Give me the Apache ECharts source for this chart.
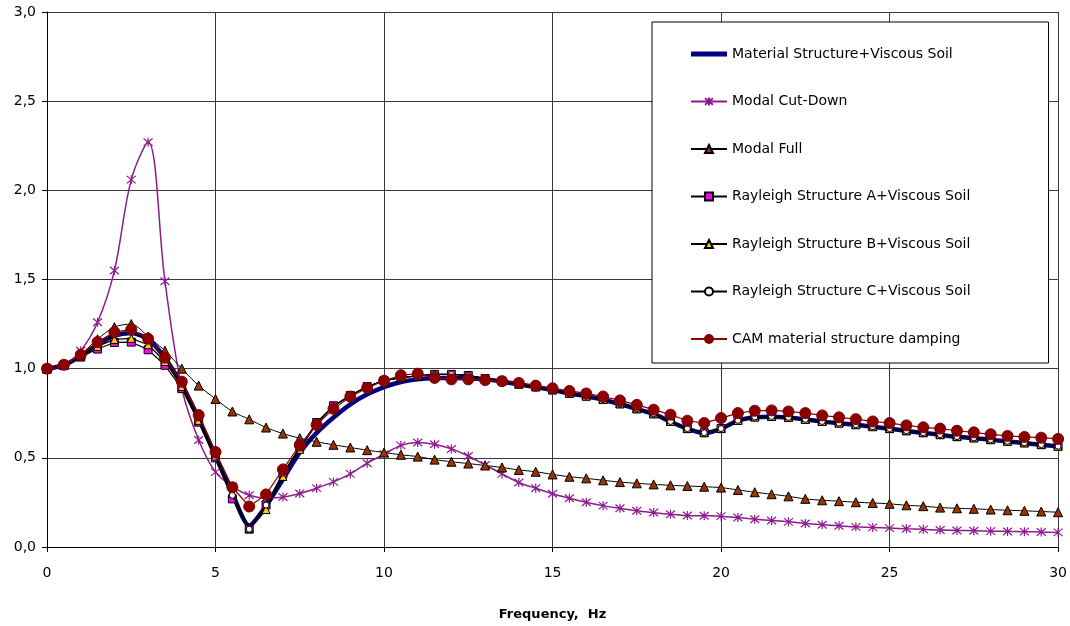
<!DOCTYPE html>
<html>
<head>
<meta charset="utf-8">
<script src="https://cdn.jsdelivr.net/npm/echarts@6/dist/echarts.min.js"></script>
<style>
  html, body { margin: 0; padding: 0; background: #fff; }
  #main { width: 1070px; height: 626px; }
</style>
</head>
<body>
<div id="main"></div>
<script>
// frequencies, Hz
var freq = [0, 0.5, 1, 1.5, 2, 2.5, 3, 3.5, 4, 4.5, 5, 5.5, 6, 6.5, 7, 7.5, 8, 8.5, 9, 9.5,
    10, 10.5, 11, 11.5, 12, 12.5, 13, 13.5, 14, 14.5, 15, 15.5, 16, 16.5, 17, 17.5, 18, 18.5, 19, 19.5,
    20, 20.5, 21, 21.5, 22, 22.5, 23, 23.5, 24, 24.5, 25, 25.5, 26, 26.5, 27, 27.5, 28, 28.5, 29, 29.5, 30];

var materialViscous = [1.00, 1.02, 1.07, 1.135, 1.185, 1.20, 1.165, 1.06, 0.91, 0.72,
    0.51, 0.30, 0.12, 0.23, 0.38, 0.53, 0.64, 0.726, 0.80, 0.856,
    0.897, 0.925, 0.94, 0.947, 0.948, 0.946, 0.94, 0.928, 0.912, 0.897,
    0.88, 0.861, 0.845, 0.826, 0.802, 0.774, 0.746, 0.703, 0.663, 0.64,
    0.663, 0.709, 0.728, 0.731, 0.726, 0.715, 0.703, 0.694, 0.685, 0.674,
    0.663, 0.651, 0.64, 0.629, 0.618, 0.611, 0.601, 0.592, 0.583, 0.573, 0.564];

var modalCutDown = [1.00, 1.02, 1.10, 1.26, 1.55, 2.06, 2.27, 1.49, 0.89, 0.60,
    0.42, 0.34, 0.29, 0.275, 0.28, 0.30, 0.33, 0.365, 0.41, 0.47,
    0.52, 0.57, 0.586, 0.576, 0.55, 0.51, 0.46, 0.41, 0.362, 0.329,
    0.299, 0.273, 0.251, 0.232, 0.217, 0.203, 0.193, 0.184, 0.177, 0.175,
    0.173, 0.165, 0.156, 0.149, 0.141, 0.132, 0.125, 0.119, 0.113, 0.110,
    0.106, 0.102, 0.099, 0.095, 0.093, 0.091, 0.089, 0.087, 0.086, 0.084, 0.082];

var modalFull = [1.00, 1.02, 1.08, 1.165, 1.233, 1.25, 1.18, 1.10, 1.00, 0.905,
    0.83, 0.76, 0.716, 0.67, 0.636, 0.61, 0.59, 0.573, 0.558, 0.543,
    0.53, 0.517, 0.507, 0.49, 0.478, 0.468, 0.457, 0.446, 0.432, 0.422,
    0.407, 0.394, 0.385, 0.374, 0.364, 0.357, 0.351, 0.346, 0.342, 0.338,
    0.333, 0.32, 0.307, 0.296, 0.284, 0.27, 0.262, 0.257, 0.251, 0.247,
    0.242, 0.234, 0.229, 0.221, 0.217, 0.214, 0.21, 0.206, 0.203, 0.199, 0.195];

var rayleighA = [1.00, 1.02, 1.065, 1.11, 1.147, 1.149, 1.106, 1.019, 0.888, 0.70,
    0.50, 0.27, 0.10, 0.235, 0.41, 0.56, 0.698, 0.792, 0.85, 0.90,
    0.933, 0.95, 0.96, 0.968, 0.968, 0.962, 0.945, 0.93, 0.913, 0.898,
    0.881, 0.862, 0.846, 0.827, 0.803, 0.775, 0.747, 0.704, 0.664, 0.641,
    0.664, 0.71, 0.729, 0.732, 0.727, 0.716, 0.704, 0.695, 0.686, 0.675,
    0.664, 0.652, 0.641, 0.63, 0.619, 0.612, 0.602, 0.593, 0.584, 0.574, 0.565];

var rayleighB = [1.00, 1.02, 1.07, 1.125, 1.164, 1.17, 1.134, 1.04, 0.90, 0.71,
    0.51, 0.30, 0.105, 0.21, 0.396, 0.548, 0.69, 0.79, 0.85, 0.90,
    0.933, 0.95, 0.96, 0.968, 0.968, 0.962, 0.945, 0.93, 0.913, 0.898,
    0.881, 0.862, 0.846, 0.827, 0.803, 0.775, 0.747, 0.704, 0.664, 0.641,
    0.664, 0.71, 0.729, 0.732, 0.727, 0.716, 0.704, 0.695, 0.686, 0.675,
    0.664, 0.652, 0.641, 0.63, 0.619, 0.612, 0.602, 0.593, 0.584, 0.574, 0.565];

var rayleighC = [1.00, 1.02, 1.075, 1.14, 1.19, 1.205, 1.165, 1.06, 0.915, 0.725,
    0.515, 0.29, 0.10, 0.235, 0.415, 0.555, 0.695, 0.79, 0.85, 0.90,
    0.933, 0.95, 0.96, 0.968, 0.968, 0.962, 0.945, 0.93, 0.913, 0.898,
    0.881, 0.862, 0.846, 0.827, 0.803, 0.775, 0.747, 0.704, 0.664, 0.641,
    0.664, 0.71, 0.729, 0.732, 0.727, 0.716, 0.704, 0.695, 0.686, 0.675,
    0.664, 0.652, 0.641, 0.63, 0.619, 0.612, 0.602, 0.593, 0.584, 0.574, 0.565];

var camDamping = [1.00, 1.022, 1.078, 1.149, 1.205, 1.22, 1.168, 1.062, 0.927, 0.74,
    0.533, 0.335, 0.227, 0.295, 0.435, 0.572, 0.685, 0.775, 0.843, 0.892,
    0.932, 0.963, 0.972, 0.948, 0.94, 0.94, 0.936, 0.93, 0.92, 0.905,
    0.89, 0.875, 0.861, 0.844, 0.822, 0.797, 0.77, 0.742, 0.708, 0.695,
    0.723, 0.751, 0.764, 0.766, 0.76, 0.751, 0.738, 0.727, 0.717, 0.704,
    0.695, 0.682, 0.671, 0.664, 0.652, 0.643, 0.632, 0.623, 0.617, 0.613, 0.606];

var seriesNames = ['Material Structure+Viscous Soil', 'Modal Cut-Down', 'Modal Full',
    'Rayleigh Structure A+Viscous Soil', 'Rayleigh Structure B+Viscous Soil',
    'Rayleigh Structure C+Viscous Soil', 'CAM material structure damping'];

function pairs(vals) {
    return freq.map(function (f, i) { return [f, vals[i]]; });
}

var FONT = 'DejaVu Sans';
var asterisk = 'path://M0,0L10,10M10,0L0,10M5,-1L5,11';

var myChart = echarts.init(document.getElementById('main'), null, {renderer: 'canvas'});

// legend: first entry is just a thick line, like the original
var legendData = seriesNames.map(function (n, i) {
    return i === 0 ? {name: n, icon: 'path://M0,0H36V5H0Z'} : {name: n};
});

var option = {
    animation: false,
    backgroundColor: '#fff',
    grid: {left: 47, top: 12, right: 10, bottom: 78, containLabel: false},
    legend: {
        orient: 'vertical',
        left: 652,
        top: 22,
        padding: [25, 78, 17, 38],
        itemGap: 33.5,
        itemWidth: 36,
        itemHeight: 10,
        backgroundColor: '#fff',
        borderColor: '#000',
        borderWidth: 1,
        borderRadius: 0,
        textStyle: {fontFamily: FONT, fontSize: 14, color: '#000', lineHeight: 14},
        data: legendData
    },
    xAxis: {
        type: 'value',
        min: 0, max: 30, interval: 5,
        name: 'Frequency,  Hz',
        nameLocation: 'middle',
        nameGap: 61,
        nameTextStyle: {fontFamily: FONT, fontSize: 13, fontWeight: 'bold', color: '#000'},
        axisLine: {show: true, onZero: false, lineStyle: {color: '#000', width: 1}},
        axisTick: {show: true, length: 5, lineStyle: {color: '#000'}},
        axisLabel: {fontFamily: FONT, fontSize: 14, color: '#000', margin: 19},
        splitLine: {show: true, lineStyle: {color: '#3a3a3a', width: 1}}
    },
    yAxis: {
        type: 'value',
        min: 0, max: 3, interval: 0.5,
        axisLine: {show: true, lineStyle: {color: '#000', width: 1}},
        axisTick: {show: true, length: 5, lineStyle: {color: '#000'}},
        axisLabel: {
            fontFamily: FONT, fontSize: 14, color: '#000', margin: 11,
            formatter: function (v) { return v.toFixed(1).replace('.', ','); }
        },
        splitLine: {show: true, lineStyle: {color: '#3a3a3a', width: 1}}
    },
    series: [
        {
            name: seriesNames[0], type: 'line', data: pairs(materialViscous),
            symbol: 'none', smooth: 0.25, z: 2,
            lineStyle: {color: '#000080', width: 4.5},
            itemStyle: {color: '#000080'}
        },
        {
            name: seriesNames[1], type: 'line', data: pairs(modalCutDown),
            smooth: 0.35, z: 3,
            symbol: asterisk, symbolSize: 9,
            lineStyle: {color: '#8E1B8E', width: 1.5},
            itemStyle: {color: '#8E1B8E', borderColor: '#8E1B8E', borderWidth: 1.2}
        },
        {
            name: seriesNames[2], type: 'line', data: pairs(modalFull),
            smooth: 0.3, z: 4,
            symbol: 'triangle', symbolSize: 9,
            lineStyle: {color: '#000', width: 1},
            itemStyle: {color: '#993300', borderColor: '#000', borderWidth: 1}
        },
        {
            name: seriesNames[3], type: 'line', data: pairs(rayleighA),
            z: 5,
            symbol: 'rect', symbolSize: 8,
            lineStyle: {color: '#000', width: 1.2},
            itemStyle: {color: '#FF00FF', borderColor: '#000', borderWidth: 1}
        },
        {
            name: seriesNames[4], type: 'line', data: pairs(rayleighB),
            z: 6,
            symbol: 'triangle', symbolSize: 8,
            lineStyle: {color: '#000', width: 1.2},
            itemStyle: {color: '#FFCC00', borderColor: '#000', borderWidth: 1}
        },
        {
            name: seriesNames[5], type: 'line', data: pairs(rayleighC),
            z: 7,
            symbol: 'circle', symbolSize: 6,
            lineStyle: {color: '#000', width: 1.2},
            itemStyle: {color: '#fff', borderColor: '#000', borderWidth: 1}
        },
        {
            name: seriesNames[6], type: 'line', data: pairs(camDamping),
            z: 8,
            symbol: 'circle', symbolSize: 11,
            lineStyle: {color: '#8B0000', width: 1.2},
            itemStyle: {color: '#8B0000', borderColor: '#800000', borderWidth: 1}
        }
    ]
};

myChart.setOption(option);
</script>
</body>
</html>
